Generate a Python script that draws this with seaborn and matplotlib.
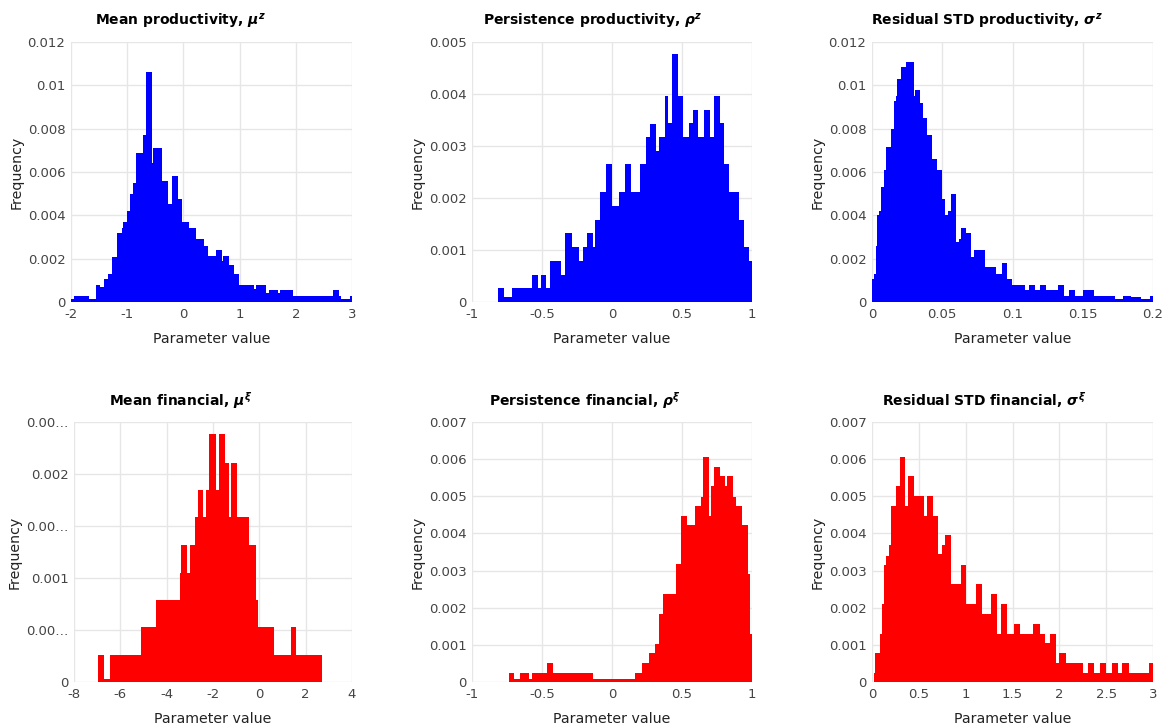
import numpy as np
import pandas as pd
import matplotlib
matplotlib.use("Agg")
import matplotlib.pyplot as plt
import seaborn as sns

# ---------------- data (bin edges and heights) ----------------
mu_z_edges = [-2.0, -1.947, -1.674, -1.562, -1.485, -1.413, -1.336, -1.277, -1.177, -1.10, -1.07,
              -0.999, -0.951, -0.892, -0.845, -0.714, -0.673, -0.566, -0.537, -0.377, -0.270,
              -0.211, -0.092, -0.021, 0.097, 0.233, 0.364, 0.441, 0.577, 0.678, 0.707, 0.808,
              0.897, 0.992, 1.253, 1.300, 1.478, 1.525, 1.685, 1.715, 1.951, 2.662, 2.769,
              2.810, 2.959, 3.0]
mu_z_heights = [0.00015, 0.0003, 0.00015, 0.0008, 0.0007, 0.00105, 0.0013, 0.0021, 0.0032, 0.0034,
                0.0037, 0.0042, 0.0050, 0.0055, 0.0069, 0.0077, 0.0106, 0.0064, 0.0071, 0.0056,
                0.0045, 0.0058, 0.00475, 0.0037, 0.0034, 0.0029, 0.0026, 0.0021, 0.0024, 0.0019,
                0.0021, 0.0017, 0.0013, 0.0008, 0.0006, 0.0008, 0.0004, 0.00055, 0.0004, 0.00055,
                0.0003, 0.00055, 0.0003, 0.00015, 0.0003]

rho_z_edges = [-0.817, -0.774, -0.714, -0.571, -0.529, -0.507, -0.469, -0.445, -0.364, -0.333,
               -0.286, -0.233, -0.210, -0.179, -0.138, -0.124, -0.083, -0.040, 0.0, 0.052, 0.095,
               0.136, 0.198, 0.245, 0.274, 0.314, 0.338, 0.376, 0.400, 0.429, 0.469, 0.507, 0.548,
               0.576, 0.612, 0.655, 0.698, 0.731, 0.774, 0.798, 0.833, 0.857, 0.905, 0.940, 0.976, 1.0]
rho_z_heights = [0.00027, 0.0001, 0.00027, 0.00052, 0.00027, 0.00052, 0.00027, 0.00079, 0.00052,
                 0.00132, 0.00105, 0.00079, 0.00105, 0.00132, 0.00105, 0.00158, 0.00211, 0.00265,
                 0.00185, 0.00211, 0.00265, 0.00211, 0.00265, 0.00318, 0.00343, 0.0029, 0.00318,
                 0.00396, 0.00345, 0.00476, 0.00396, 0.00318, 0.00345, 0.0037, 0.00318, 0.0037,
                 0.00318, 0.00396, 0.00345, 0.00265, 0.00211, 0.00211, 0.00158, 0.00105, 0.00079]

sig_z_edges = [0.0, 0.0012, 0.0026, 0.0036, 0.005, 0.0066, 0.0083, 0.0102, 0.0138, 0.0154, 0.0168,
               0.018, 0.0204, 0.0244, 0.0297, 0.0308, 0.0339, 0.0363, 0.0391, 0.0427, 0.0465,
               0.0498, 0.0517, 0.0541, 0.0565, 0.06, 0.0617, 0.0636, 0.0667, 0.0707, 0.0724,
               0.0807, 0.088, 0.0925, 0.0961, 0.0999, 0.1089, 0.1117, 0.1158, 0.1198, 0.1241,
               0.1324, 0.1364, 0.1402, 0.1442, 0.1502, 0.1578, 0.1727, 0.1786, 0.1846, 0.1917,
               0.1976, 0.2]
sig_z_heights = [0.00105, 0.0013, 0.0026, 0.004, 0.0042, 0.0053, 0.0061, 0.00717, 0.008, 0.0093,
                 0.0095, 0.0103, 0.01085, 0.0111, 0.0095, 0.0098, 0.0092, 0.0085, 0.0077, 0.0066,
                 0.0061, 0.00475, 0.004, 0.0042, 0.005, 0.00275, 0.0029, 0.0034, 0.0032, 0.0021,
                 0.0024, 0.0016, 0.0013, 0.0018, 0.00105, 0.0008, 0.00054, 0.0008, 0.00054, 0.0008,
                 0.00054, 0.0008, 0.0003, 0.00054, 0.0003, 0.00054, 0.0003, 0.00015, 0.0003,
                 0.00025, 0.00015, 0.0003]

mu_x_edges = [-6.964, -6.705, -6.432, -5.094, -4.475, -3.439, -3.367, -3.122, -3.007, -2.763,
              -2.647, -2.432, -2.288, -2.173, -1.856, -1.755, -1.496, -1.309, -1.209, -0.95,
              -0.705, -0.446, -0.158, -0.058, 0.619, 1.353, 1.597, 2.705]
mu_x_heights = [0.000256, 0.000032, 0.000256, 0.000525, 0.00079, 0.00105, 0.00132, 0.00105,
                0.00132, 0.00159, 0.00185, 0.00159, 0.00185, 0.00238, 0.00185, 0.00238, 0.00211,
                0.00159, 0.00211, 0.00159, 0.00159, 0.00132, 0.00079, 0.000525, 0.000256,
                0.000525, 0.000256]

rho_x_edges = [-0.739, -0.698, -0.660, -0.596, -0.572, -0.466, -0.418, -0.138, 0.164, 0.211,
               0.266, 0.306, 0.337, 0.361, 0.456, 0.496, 0.539, 0.591, 0.639, 0.651, 0.694,
               0.710, 0.729, 0.770, 0.805, 0.824, 0.865, 0.888, 0.929, 0.971, 0.983, 1.0]
rho_x_heights = [0.00024, 0.00009, 0.00024, 0.00009, 0.00024, 0.00051, 0.00024, 0.00009,
                 0.00024, 0.00051, 0.00078, 0.00103, 0.00183, 0.00236, 0.00317, 0.00448,
                 0.00422, 0.00473, 0.00499, 0.00606, 0.00447, 0.00527, 0.00579, 0.00554,
                 0.00527, 0.00554, 0.00499, 0.00474, 0.00422, 0.0029, 0.0013]

sig_x_edges = [0.018, 0.036, 0.082, 0.107, 0.125, 0.153, 0.178, 0.199, 0.253, 0.295, 0.356,
               0.384, 0.448, 0.555, 0.591, 0.651, 0.705, 0.747, 0.776, 0.840, 0.947, 1.007,
               1.114, 1.174, 1.274, 1.338, 1.381, 1.441, 1.516, 1.577, 1.719, 1.790, 1.843,
               1.904, 1.968, 1.996, 2.075, 2.253, 2.306, 2.367, 2.431, 2.502, 2.566, 2.626,
               2.673, 2.740, 2.954, 3.0]
sig_x_heights = [0.00024, 0.00078, 0.0013, 0.0021, 0.00315, 0.0034, 0.0037, 0.00474, 0.00527,
                 0.00606, 0.00474, 0.00554, 0.005, 0.00448, 0.005, 0.00448, 0.00344, 0.00369,
                 0.00396, 0.00263, 0.00315, 0.0021, 0.00263, 0.00184, 0.00236, 0.0013, 0.0021,
                 0.0013, 0.00156, 0.0013, 0.00156, 0.0013, 0.00105, 0.0013, 0.00051, 0.00078,
                 0.00051, 0.00024, 0.00051, 0.00024, 0.00051, 0.00024, 0.00051, 0.00024,
                 0.00051, 0.00024, 0.00051]

titles = [r"Mean productivity, $\mu^{z}$", r"Persistence productivity, $\rho^{z}$",
          r"Residual STD productivity, $\sigma^{z}$", r"Mean financial, $\mu^{\xi}$",
          r"Persistence financial, $\rho^{\xi}$", r"Residual STD financial, $\sigma^{\xi}$"]

x_ticks = [[-2, -1, 0, 1, 2, 3], [-1, -0.5, 0, 0.5, 1], [0, 0.05, 0.1, 0.15, 0.2],
           [-8, -6, -4, -2, 0, 2, 4], [-1, -0.5, 0, 0.5, 1], [0, 0.5, 1, 1.5, 2, 2.5, 3]]
y_ticks = [[0, 0.002, 0.004, 0.006, 0.008, 0.01, 0.012],
           [0, 0.001, 0.002, 0.003, 0.004, 0.005],
           [0, 0.002, 0.004, 0.006, 0.008, 0.01, 0.012],
           [0, 0.0005, 0.001, 0.0015, 0.002, 0.0025],
           [0, 0.001, 0.002, 0.003, 0.004, 0.005, 0.006, 0.007],
           [0, 0.001, 0.002, 0.003, 0.004, 0.005, 0.006, 0.007]]
y_tick_labels_fin_mean = ["0", "0.00\u2026", "0.001", "0.00\u2026", "0.002", "0.00\u2026"]

series = [(mu_z_edges, mu_z_heights), (rho_z_edges, rho_z_heights), (sig_z_edges, sig_z_heights),
          (mu_x_edges, mu_x_heights), (rho_x_edges, rho_x_heights), (sig_x_edges, sig_x_heights)]
colors = ["#0000ff"] * 3 + ["#ff0000"] * 3

# ---------------- figure ----------------
sns.set_theme(style="white")
plt.rcParams["font.family"] = ["DejaVu Sans"]
plt.rcParams["mathtext.fontset"] = "custom"
plt.rcParams["mathtext.it"] = "DejaVu Sans:italic:bold"
plt.rcParams["mathtext.rm"] = "DejaVu Sans:bold"
plt.rcParams["mathtext.bf"] = "DejaVu Sans:bold"

W, H = 1169, 726
fig = plt.figure(figsize=(W / 100, H / 100), dpi=100)

# axes boxes in pixels: (left, right, top, bottom)
boxes = [(71, 352, 42, 302), (472, 752, 42, 302), (872, 1153, 42, 302),
         (74, 352, 422, 682), (472, 752, 422, 682), (872, 1153, 422, 682)]
title_x = [0.39, 0.43, 0.41, 0.385, 0.405, 0.40]

for i, ((l, r, t, b), (edges, heights)) in enumerate(zip(boxes, series)):
    ax = fig.add_axes([l / W, 1 - b / H, (r - l) / W, (b - t) / H])
    edges = np.asarray(edges, dtype=float)
    centers = (edges[:-1] + edges[1:]) / 2
    df = pd.DataFrame({"value": centers, "height": np.asarray(heights, dtype=float)})
    sns.histplot(data=df, x="value", weights="height", bins=list(edges), stat="count",
                 element="step", fill=True, color=colors[i], alpha=1, linewidth=0, ax=ax)
    xt, yt = x_ticks[i], y_ticks[i]
    ax.set_xlim(xt[0], xt[-1])
    ax.set_ylim(yt[0], yt[-1])
    ax.set_xticks(xt)
    ax.set_xticklabels([f"{v:g}" for v in xt])
    ax.set_yticks(yt)
    if i == 3:
        ax.set_yticklabels(y_tick_labels_fin_mean)
    else:
        ax.set_yticklabels([f"{v:g}" for v in yt])
    ax.tick_params(axis="both", labelsize=9.5, colors="#444444", length=0, pad=4)
    ax.grid(True, color="#e6e6e6", linewidth=1)
    ax.set_axisbelow(True)
    for s in ax.spines.values():
        s.set_visible(False)
    ax.set_xlabel("Parameter value", fontsize=10.2, color="#222222", labelpad=8)
    ax.set_ylabel("Frequency", fontsize=10.2, color="#222222", labelpad=3)
    ax.text(title_x[i], 1 + 16 / (b - t), titles[i], transform=ax.transAxes, ha="center",
            va="baseline", fontsize=10, fontweight="bold", color="black")

fig.savefig("out.png", dpi=100)
